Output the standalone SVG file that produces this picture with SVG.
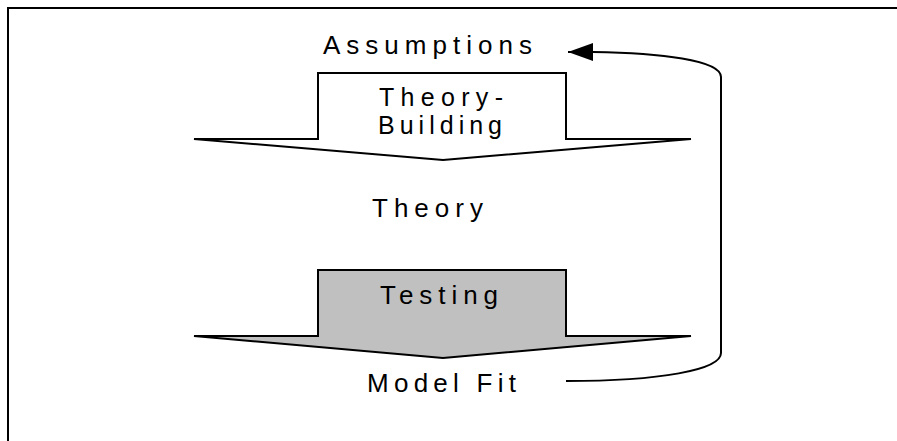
<svg xmlns="http://www.w3.org/2000/svg" width="897" height="441" viewBox="0 0 897 441">
<defs>
<style>
.frame{fill:none;stroke:#000;stroke-width:2}
.shape{stroke:#000;stroke-width:2;stroke-linejoin:miter}
.lbl{font-family:"Liberation Sans",Arial,sans-serif;font-size:26px;fill:#000}
.lbl2{font-size:25px}
.conn{fill:none;stroke:#000;stroke-width:2}
</style>
<marker id="ah" markerWidth="26" markerHeight="20" refX="25" refY="10" orient="auto" markerUnits="userSpaceOnUse">
<polygon points="0,1 25,10 0,19" fill="#000"/>
</marker>
</defs>
<rect width="897" height="441" fill="#fff"/>
<path class="frame" d="M8,441 V8 H897"/>
<g id="node-assumptions">
<text class="lbl" x="323" y="54" textLength="209" lengthAdjust="spacing">Assumptions</text>
</g>
<g id="node-theory-building">
<polygon class="shape" fill="#fff" points="318,73 566,73 566,139 691,139 443,160 194,139 318,139"/>
<text class="lbl lbl2" x="379" y="106" textLength="124" lengthAdjust="spacing">Theory-</text>
<text class="lbl lbl2" x="378" y="134" textLength="124" lengthAdjust="spacing">Building</text>
</g>
<g id="node-theory">
<text class="lbl" x="372" y="217" textLength="111" lengthAdjust="spacing">Theory</text>
</g>
<g id="node-testing">
<polygon class="shape" fill="#c0c0c0" points="318,270 566,270 566,336 691,336 443,358 194,336 318,336"/>
<text class="lbl" x="380" y="304" textLength="118" lengthAdjust="spacing">Testing</text>
</g>
<g id="node-model-fit">
<text class="lbl" x="367" y="392" textLength="149" lengthAdjust="spacing">Model Fit</text>
</g>
<g id="connectors">
<path class="conn" d="M566,381 C660,381 721,370 721,353 L721,77 C721,60 660,53 593,52 L568,52" marker-end="url(#ah)"/>
</g>
</svg>
